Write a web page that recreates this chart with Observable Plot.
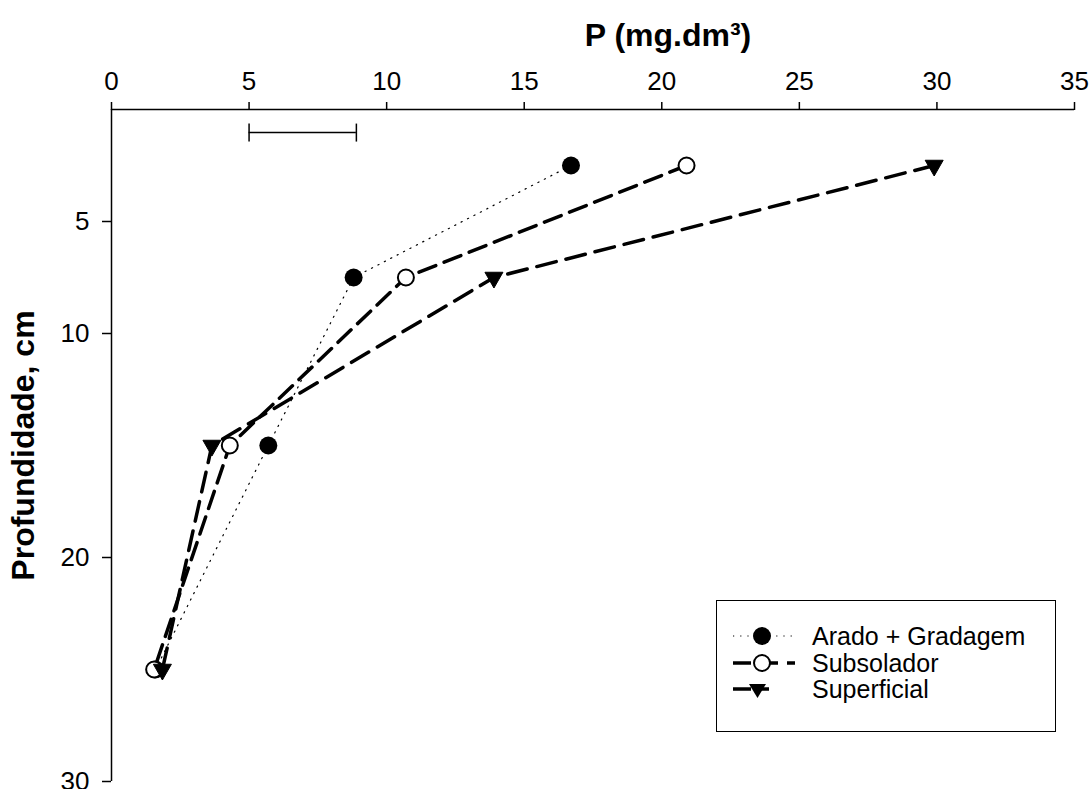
<!DOCTYPE html>
<html>
<head>
<meta charset="utf-8">
<script src="https://cdn.jsdelivr.net/npm/d3@7"></script>
<script src="https://cdn.jsdelivr.net/npm/@observablehq/plot@0.6"></script>
<style>
  html, body { margin: 0; padding: 0; background: #fff; }
  #wrap { position: relative; width: 1090px; height: 789px; font-family: "Liberation Sans", Arial, sans-serif; }
  #legend { position: absolute; left: 716px; top: 600px; width: 338px; height: 130px; border: 1.5px solid #000; background: #fff; box-sizing: content-box; }
  .row { position: absolute; left: 16px; height: 26px; display: flex; align-items: center; }
  .row span { font-size: 25px; margin-left: 17px; color: #000; }
</style>
</head>
<body>
<div id="wrap"></div>
<script>
// ---- data ----
const depth = [2.5, 7.5, 15, 25];
const arado = [16.7, 8.8, 5.7, 1.6];
const subsolador = [20.9, 10.7, 4.3, 1.55];
const superficial = [29.9, 13.9, 3.65, 1.85];
const seriesNames = ["Arado + Gradagem", "Subsolador", "Superficial"];
const xTicks = [0, 5, 10, 15, 20, 25, 30, 35];
const yTicks = [5, 10, 20, 30];
const errBar = [{x1: 5.0, x2: 8.9, y: 1.03}];
const xLabel = "P (mg.dm³)";
const yLabel = "Profundidade, cm";

const rows = (vals) => vals.map((v, i) => ({x: v, y: depth[i]}));
const dA = rows(arado), dS = rows(subsolador), dF = rows(superficial);

const triDown = {
  draw(ctx, size) {
    const r = Math.sqrt(size / Math.PI);
    const w = r * 1.0, h = r * 1.75;
    ctx.moveTo(-w, -h / 3);
    ctx.lineTo(w, -h / 3);
    ctx.lineTo(0, 2 * h / 3);
    ctx.closePath();
  }
};
const vbar = {
  draw(ctx, size) {
    const r = Math.sqrt(size / Math.PI);
    ctx.moveTo(0, -r);
    ctx.lineTo(0, r);
  }
};

const chart = Plot.plot({
  width: 1090,
  height: 789,
  marginTop: 109,
  marginLeft: 111,
  marginRight: 16,
  marginBottom: 8,
  style: {fontFamily: "'Liberation Sans', Arial, sans-serif", color: "#000", background: "#fff", overflow: "visible"},
  x: {domain: [0, 35]},
  y: {domain: [0, 30], reverse: true},
  marks: [
    Plot.axisX({anchor: "top", ticks: xTicks, tickSize: 8, tickPadding: 12, fontSize: 26, label: null, strokeWidth: 1.5}),
    Plot.axisY({anchor: "left", ticks: yTicks, tickSize: 9, tickPadding: 13, fontSize: 26, label: null, strokeWidth: 1.5}),
    Plot.ruleY([0], {stroke: "#000", strokeWidth: 1.5}),
    Plot.ruleX([0], {stroke: "#000", strokeWidth: 1.5}),
    Plot.text([xLabel], {frameAnchor: "top", lineAnchor: "middle", dx: 75, dy: -74, fontSize: 32, fontWeight: "bold", fill: "#000"}),
    Plot.text([yLabel], {frameAnchor: "left", textAnchor: "middle", lineAnchor: "middle", dx: -88, rotate: -90, fontSize: 32, fontWeight: "bold", fill: "#000"}),
    // error bar
    Plot.ruleY(errBar, {x1: "x1", x2: "x2", y: "y", stroke: "#000", strokeWidth: 1.5}),
    Plot.dot(errBar, {x: "x1", y: "y", symbol: vbar, r: 9, stroke: "#000", strokeWidth: 1.5}),
    Plot.dot(errBar, {x: "x2", y: "y", symbol: vbar, r: 9, stroke: "#000", strokeWidth: 1.5}),
    // lines
    Plot.line(dA, {x: "x", y: "y", stroke: "#000", strokeWidth: 1.2, strokeDasharray: "1.2,6", curve: "linear"}),
    Plot.line(dS, {x: "x", y: "y", stroke: "#000", strokeWidth: 3.5, strokeDasharray: "18,9", curve: "linear"}),
    Plot.line(dF, {x: "x", y: "y", stroke: "#000", strokeWidth: 3.5, strokeDasharray: "20,10", curve: "linear"}),
    // markers
    Plot.dot(dA, {x: "x", y: "y", r: 9, fill: "#000", stroke: "none"}),
    Plot.dot(dS, {x: "x", y: "y", r: 8, fill: "#fff", stroke: "#000", strokeWidth: 2}),
    Plot.dot(dF, {x: "x", y: "y", r: 9, symbol: triDown, fill: "#000", stroke: "#000", strokeWidth: 1})
  ]
});

const wrap = document.getElementById("wrap");
wrap.appendChild(chart);

// legend
const legend = document.createElement("div");
legend.id = "legend";
const swatches = [
  `<line x1="0" y1="13" x2="62" y2="13" stroke="#000" stroke-width="1.2" stroke-dasharray="1.2,6"/><circle cx="29" cy="13" r="9" fill="#000"/>`,
  `<line x1="0" y1="13" x2="62" y2="13" stroke="#000" stroke-width="3.5" stroke-dasharray="18,9"/><circle cx="29" cy="13" r="8" fill="#fff" stroke="#000" stroke-width="2"/>`,
  `<line x1="0" y1="13" x2="36" y2="13" stroke="#000" stroke-width="3.5" stroke-dasharray="18,9"/><path d="M16,8 L33,8 L24.5,22 Z" fill="#000"/>`
];
const tops = [22, 49, 75];
seriesNames.forEach((name, i) => {
  const r = document.createElement("div");
  r.className = "row";
  r.style.top = tops[i] + "px";
  r.innerHTML = `<svg width="62" height="26">${swatches[i]}</svg><span>${name}</span>`;
  legend.appendChild(r);
});
wrap.appendChild(legend);
</script>
</body>
</html>
